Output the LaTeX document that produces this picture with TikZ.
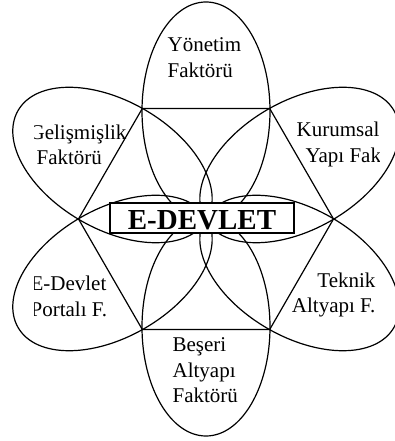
\documentclass[tikz,border=0pt]{standalone}
\usepackage{fontspec}
\setmainfont{Liberation Serif}
\usetikzlibrary{calc}

\begin{document}
\begin{tikzpicture}[x=1pt,y=1pt,line width=1.2pt,
    petal/.style={line width=1.2pt},
    factor/.style={inner sep=0pt,font=\fontsize{21}{25.5}\selectfont}]
    \useasboundingbox (0,0) rectangle (395,441);
    \clip (0,0) rectangle (395,441);
    \coordinate (O) at (206,222);
    \foreach \a in {30,90,...,330}
        \draw[petal] ($(O)+(\a:108)$) ellipse [x radius=109,y radius=64,rotate=\a];
    \foreach \a [count=\i] in {0,60,...,300}
        \coordinate (v\i) at ($(O)+(\a:127.5)$);
    \draw (v1) -- (v2) -- (v3) -- (v4) -- (v5) -- (v6) -- cycle;
    \node[draw,fill=white,line width=1.5pt,minimum width=184pt,minimum height=30pt,inner sep=0pt,
        text height=24pt,text depth=0pt,font=\fontsize{29}{30}\selectfont\bfseries] (core) at (202,223) {E-DEVLET};
    \node[factor,align=left,anchor=base west] (yonetim) at (167,363.5) {Yönetim\\Faktörü};
    \node[factor,align=left,anchor=base west] (beseri) at (172,38) {Beşeri\\Altyapı\\Faktörü};
    \node[factor,align=right,anchor=base east] (teknik) at (376,128) {Teknik\\Altyapı F.};
    \begin{scope}
        \clip (34,0) rectangle (395,441);
        \node[factor,align=left,anchor=base west] (gelisme) at (29,276) {Gelişmişlik\\\hspace*{7pt}Faktörü};
        \node[factor,align=left,anchor=base west] (portal) at (30,124.5) {E-Devlet\\Portalı F.};
    \end{scope}
    \begin{scope}
        \clip (0,0) rectangle (379,441);
        \node[factor,align=left,anchor=base west] (kurumsal) at (296,278.5) {Kurumsal\\\hspace*{9pt}Yapı Faktörü};
    \end{scope}
\end{tikzpicture}
\end{document}
